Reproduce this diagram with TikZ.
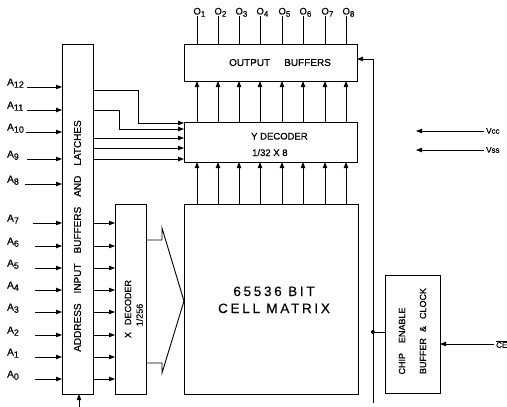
\documentclass[tikz,border=0pt]{standalone}
\usepackage{fontspec}
\setmainfont{Liberation Sans}[FakeBold=0.5]
\newfontfamily\matfont{Liberation Sans}[LetterSpace=20,FakeBold=0.3]
\usetikzlibrary{arrows.meta}
\newcommand\sublab[3]{#1\raisebox{-2.2pt}{\fontsize{#3}{#3}\selectfont #2}}
\newcommand\fs[1]{\fontsize{#1}{#1}\selectfont}
\begin{document}
\begin{tikzpicture}[x=1pt,y=-1pt,
  box/.style={draw,line width=0.9pt,inner sep=0pt,outer sep=0pt},
  ln/.style={line width=0.9pt},
  arr/.style={line width=0.9pt,-{Triangle[length=6pt,width=4.4pt]}},
  lab/.style={inner sep=0pt,anchor=base west},
  txt/.style={inner sep=0pt}]
\useasboundingbox (0,0) rectangle (507,407);
\fill[white] (0,0) rectangle (507,407);

% boxes
\node[box,minimum width=31pt,minimum height=350pt] (latch) at (77.5,219) {};
\node[box,minimum width=31pt,minimum height=190pt] (xdec) at (130.5,299) {};
\node[box,minimum width=174pt,minimum height=190pt] (matrix) at (271,299) {};
\node[box,minimum width=173pt,minimum height=40pt] (ydec) at (270.5,142) {};
\node[box,minimum width=173pt,minimum height=37pt] (obuf) at (270.5,62.5) {};
\node[box,minimum width=55pt,minimum height=118pt] (ce) at (412.5,334) {};

% texts in boxes
\node[txt,rotate=90,font=\fs{10}] (latchtxt) at (77.5,236)
  {ADDRESS\hspace{10pt}INPUT\hspace{10pt}BUFFERS\hspace{10pt}AND\hspace{10pt}LATCHES};
\node[txt,rotate=90,font=\fs{9}] (xdt1) at (128,309) {X\hspace{7pt}DECODER};
\node[txt,rotate=90,font=\fs{9}] (xdt2) at (139.5,315) {1/256};
\node[txt,font=\fs{10}] (obt) at (280,62.5) {OUTPUT\hspace{14pt}BUFFERS};
\node[lab,font=\fs{9.5}] (ydt1) at (251,139.5) {Y DECODER};
\node[lab,font=\fs{9.5}] (ydt2) at (252,156) {1/32 X 8};
\node[txt,anchor=base,font=\matfont\fs{13.5}] (mt1) at (274,296) {65536 BIT};
\node[txt,anchor=base,font=\matfont\fs{13.5}] (mt2) at (274,313) {CELL MATRIX};
\node[txt,rotate=90,font=\fs{9}] (cet1) at (402,341) {CHIP\hspace{10pt}ENABLE};
\node[txt,rotate=90,font=\fs{9}] (cet2) at (423,331) {BUFFER\hspace{6pt}\&\hspace{7pt}CLOCK};

% address inputs
\foreach \nm/\yy/\xs in {12/87/27, 11/110/27, 10/132/26, 9/159/27, 8/184/25,
    7/223/33, 6/246/35, 5/268/35, 4/290/35, 3/312/35, 2/335/35, 1/357/35, 0/379/35} {
  \node[lab,font=\fs{10}] (lA\nm) at (7,\yy-1.5) {\sublab{A}{\nm}{9}};
  \coordinate (sA\nm) at (\xs,\yy);
  \draw[arr] (sA\nm) -- (sA\nm -| latch.west);
}

% latch -> x decoder
\foreach \yy in {223,246,268,290,312,335,357,379} {
  \coordinate (xl\yy) at (latch.east |- 0,\yy);
  \draw[arr] (xl\yy) -- (xl\yy -| xdec.west);
}

% latch -> y decoder
\draw[arr] (latch.east |- 0,90) -- (138,90) -- (138,123) -- (ydec.west |- 0,123);
\draw[arr] (latch.east |- 0,110) -- (119,110) -- (119,129) -- (ydec.west |- 0,129);
\draw[arr] (latch.east |- 0,138) -- (ydec.west |- 0,138);
\draw[arr] (latch.east |- 0,148) -- (ydec.west |- 0,148);
\draw[arr] (latch.east |- 0,159) -- (ydec.west |- 0,159);

% latch bottom input
\coordinate (lb) at (79,407);
\draw[arr] (lb) -- (lb |- latch.south);

% x decoder -> matrix bracket
\draw[ln] (xdec.east |- 0,240) -- (162,240) -- (162,228) -- (matrix.west |- 0,301)
  -- (162,373) -- (162,363) -- (xdec.east |- 0,363);

% columns
\foreach \i/\xx in {1/197,2/218,3/239,4/260,5/282,6/303,7/325,8/346} {
  \coordinate (c\i) at (\xx,16);
  \draw[arr] (matrix.north -| c\i) -- (ydec.south -| c\i);
  \draw[arr] (ydec.north -| c\i) -- (obuf.south -| c\i);
  \draw[ln] (obuf.north -| c\i) -- (c\i);
  \node[lab,font=\fs{9.5}] (o\i) at (\xx-3.7,14.5) {\sublab{O}{\i}{8}};
}

% chip enable line
\coordinate (rtop) at (373,59);
\coordinate (rbot) at (373,403);
\coordinate (dot) at (373,332);
\draw[ln] (rbot) -- (rtop);
\draw[arr] (rtop) -- (rtop -| obuf.east);
\fill (dot) circle (2pt);
\draw[ln] (dot) -- (dot -| ce.west);

% supplies
\node[anchor=west,inner sep=2pt,font=\fs{8}] (vcc) at (484,131) {Vcc};
\node[anchor=west,inner sep=2pt,font=\fs{8}] (vss) at (484,150) {Vss};
\coordinate (vcce) at (416,131);
\coordinate (vsse) at (416,150);
\draw[arr] (vcc.west) -- (vcce);
\draw[arr] (vss.west) -- (vsse);

% CE input
\node[anchor=west,inner sep=2pt,font=\fs{8}] (cein) at (494,344) {$\overline{\mbox{CE}}$};
\draw[arr] (cein.west) -- (cein.west -| ce.east);
\end{tikzpicture}
\end{document}
